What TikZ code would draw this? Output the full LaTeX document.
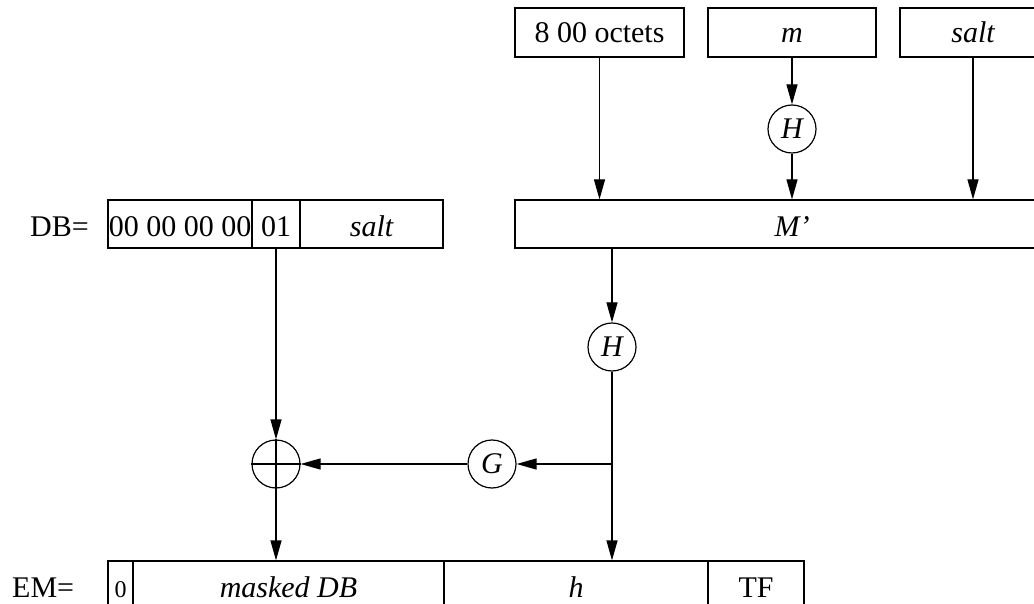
\documentclass[tikz,border=0pt]{standalone}
\usepackage{fontspec}
\setmainfont{Liberation Serif}
\usetikzlibrary{arrows.meta}
\begin{document}
\begin{tikzpicture}[x=1pt,y=-1pt,
  every node/.style={font=\fontsize{30}{36}\selectfont},
  lw/.style={line width=1.2pt},
  cell/.style={draw, lw, inner sep=0pt, text depth=0pt},
  toprow/.style={cell, minimum height=49pt, text height=21pt},
  midrow/.style={cell, minimum height=48pt, text height=26pt},
  botrow/.style={cell, minimum height=45pt, text height=27pt},
  fn/.style={draw, lw, circle, inner sep=0pt, minimum size=48pt},
  arr/.style={lw, -{Triangle[length=20pt,width=11pt]}},
  ln/.style={lw}]
\useasboundingbox (0,0) rectangle (1034,604);
\clip (0,0) rectangle (1034,604);
% top row
\node[toprow, minimum width=169pt] (oct) at (599.5,32.5) {8 00 octets};
\node[toprow, minimum width=168pt] (m) at (792,32.5) {\itshape m};
\node[toprow, minimum width=146pt] (salt) at (973,32.5) {\itshape salt};
\node[fn] (H1) at (792,129) {\itshape H};
% M' row
\node[midrow, minimum width=554pt] (Mp) at (792,224) {\itshape M’};
% DB row
\node[anchor=base west, inner sep=0pt] (dblabel) at (30,237) {DB=};
\node[midrow, minimum width=144pt] (db1) at (180,224) {00 00 00 00};
\node[midrow, minimum width=48pt] (db2) at (276,224) {01};
\node[midrow, minimum width=143pt] (db3) at (371.5,224) {\itshape salt};
% function circles
\node[fn] (H2) at (612,347) {\itshape H};
\node[fn] (G) at (492,464) {\itshape G};
\node[fn] (xor) at (276,464) {};
\draw[ln] (xor.north) -- (xor.south) (xor.west) -- (xor.east);
\coordinate (J) at (612,464);
% EM row
\node[anchor=base west, inner sep=0pt] (emlabel) at (12,597) {EM=};
\node[botrow, minimum width=25pt, font=\fontsize{24}{28}\selectfont] (em1) at (120.5,583.5) {0};
\node[botrow, minimum width=311pt] (em2) at (288.5,583.5) {\itshape masked DB};
\node[botrow, minimum width=264pt] (em3) at (576,583.5) {\itshape h};
\node[botrow, minimum width=96pt] (em4) at (756,583.5) {TF};
% connectors
\draw[arr] (oct.south) -- (oct.south |- Mp.north);
\draw[arr] (m.south) -- (H1.north);
\draw[arr] (H1.south) -- (H1.south |- Mp.north);
\draw[arr] (salt.south) -- (salt.south |- Mp.north);
\draw[arr] (H2.north |- Mp.south) -- (H2.north);
\draw[arr] (H2.south) -- (H2.south |- em3.north);
\draw[arr] (J) -- (G.east);
\draw[arr] (G.west) -- (xor.east);
\draw[arr] (xor.north |- db2.south) -- (xor.north);
\draw[arr] (xor.south) -- (xor.south |- em2.north);
\end{tikzpicture}
\end{document}
